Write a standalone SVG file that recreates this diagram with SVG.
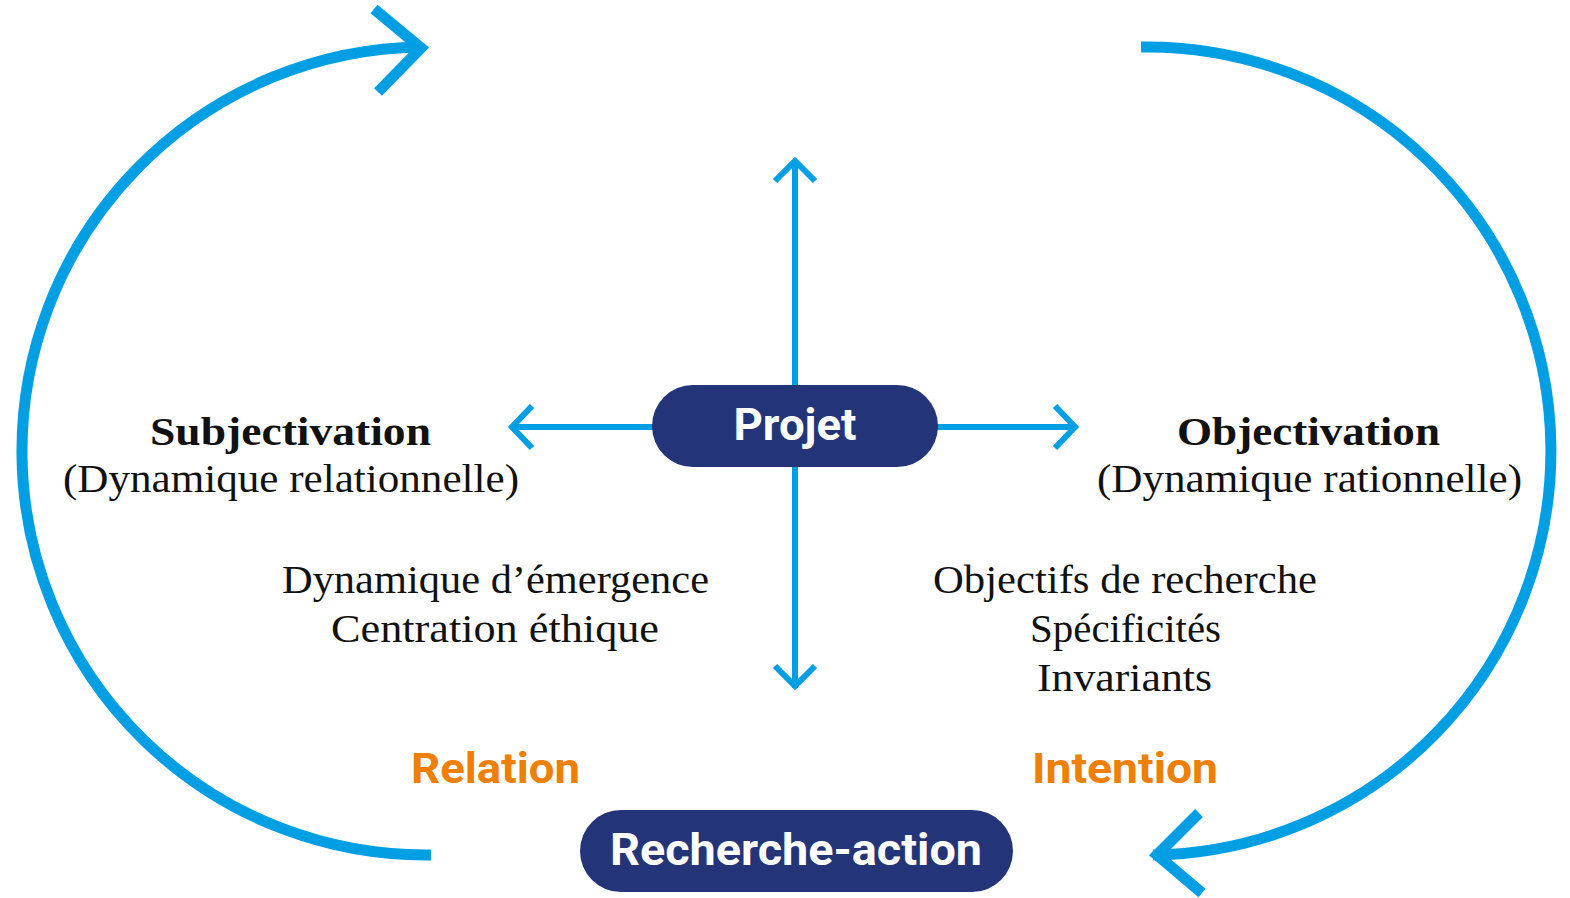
<svg xmlns="http://www.w3.org/2000/svg" width="1570" height="898" viewBox="0 0 1570 898">
  <style>
    .big { fill: none; stroke: #009FE3; stroke-width: 11; stroke-linejoin: miter; stroke-linecap: butt; }
    .thin { fill: none; stroke: #009FE3; stroke-width: 6; stroke-linejoin: miter; stroke-linecap: butt; }
    .pill { fill: #243479; }
    .pilltxt { font-family: Roboto, "Liberation Sans", sans-serif; font-weight: bold; fill: #ffffff; text-anchor: middle; }
    .serif { font-family: "Liberation Serif", "DejaVu Serif", serif; fill: #111111; text-anchor: middle; font-size: 41px; }
    .bold { font-weight: bold; }
    .orange { font-family: Roboto, "Liberation Sans", sans-serif; font-weight: bold; fill: #EE7F00; text-anchor: middle; font-size: 43px; }
  </style>
  <rect width="1570" height="898" fill="#ffffff"/>
  <g id="connectors">
    <path class="big" d="M 431 855 A 404 404 0 0 1 421 47"/>
    <polyline class="big" points="374,9 421,48 378,92"/>
    <path class="big" d="M 1141 47 A 404 404 0 0 1 1153 855"/>
    <polyline class="big" points="1199,813 1157,855 1202,893"/>
    <line class="thin" x1="795" y1="162" x2="795" y2="688"/>
    <polyline class="thin" points="775,181 795,161 815,181"/>
    <polyline class="thin" points="775,666 795,686 815,666"/>
    <line class="thin" x1="512" y1="427" x2="1075" y2="427"/>
    <polyline class="thin" points="532,406 512,427 532,448"/>
    <polyline class="thin" points="1055,406 1075,427 1055,448"/>
  </g>
  <g id="node-projet">
    <rect class="pill" x="652" y="385" width="286" height="82" rx="41" ry="41"/>
    <text class="pilltxt" x="795" y="440" font-size="45" textLength="123" lengthAdjust="spacingAndGlyphs">Projet</text>
  </g>
  <g id="node-recherche-action">
    <rect class="pill" x="580" y="810" width="433" height="82" rx="41" ry="41"/>
    <text class="pilltxt" x="796" y="865" font-size="45" textLength="372" lengthAdjust="spacingAndGlyphs">Recherche-action</text>
  </g>
  <g id="node-subjectivation">
    <text class="serif bold" x="290.5" y="445" textLength="281" lengthAdjust="spacingAndGlyphs">Subjectivation</text>
    <text class="serif" x="291" y="492" textLength="456" lengthAdjust="spacingAndGlyphs">(Dynamique relationnelle)</text>
  </g>
  <g id="node-objectivation">
    <text class="serif bold" x="1308.5" y="445" textLength="263" lengthAdjust="spacingAndGlyphs">Objectivation</text>
    <text class="serif" x="1309.5" y="492" textLength="425" lengthAdjust="spacingAndGlyphs">(Dynamique rationnelle)</text>
  </g>
  <g id="node-emergence">
    <text class="serif" x="495.5" y="593" textLength="427" lengthAdjust="spacingAndGlyphs">Dynamique d’émergence</text>
    <text class="serif" x="495" y="642" textLength="328" lengthAdjust="spacingAndGlyphs">Centration éthique</text>
  </g>
  <g id="node-objectifs">
    <text class="serif" x="1125" y="593" textLength="384" lengthAdjust="spacingAndGlyphs">Objectifs de recherche</text>
    <text class="serif" x="1125.5" y="642" textLength="191" lengthAdjust="spacingAndGlyphs">Spécificités</text>
    <text class="serif" x="1124.5" y="691" textLength="175" lengthAdjust="spacingAndGlyphs">Invariants</text>
  </g>
  <g id="node-relation">
    <text class="orange" x="495.5" y="783" textLength="169" lengthAdjust="spacingAndGlyphs">Relation</text>
  </g>
  <g id="node-intention">
    <text class="orange" x="1125" y="783" textLength="186" lengthAdjust="spacingAndGlyphs">Intention</text>
  </g>
</svg>
